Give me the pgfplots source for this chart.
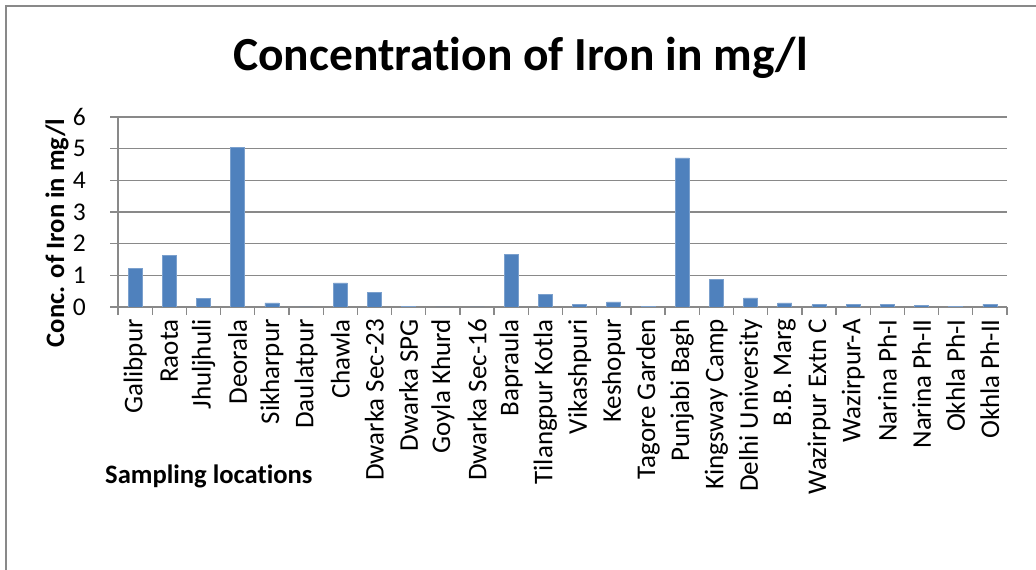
\documentclass[border=0pt]{standalone}
\usepackage{pgfplots}
\pgfplotsset{compat=1.18}
\usepackage{fontspec}
\setmainfont{Carlito}[Ligatures={NoCommon}]
\definecolor{barblue}{HTML}{4F81BD}
\definecolor{baredge}{HTML}{7BA0CD}
\definecolor{gridgray}{HTML}{898989}

\pgfplotstableread{
idx value
0  1.21
1  1.64
2  0.26
3  5.05
4  0.13
5  0
6  0.76
7  0.47
8  0.03
9  0
10 0
11 1.67
12 0.40
13 0.07
14 0.16
15 0.03
16 4.71
17 0.88
18 0.29
19 0.13
20 0.07
21 0.07
22 0.07
23 0.06
24 0.01
25 0.09
}\irondata

\begin{document}
\begin{tikzpicture}[x=1pt,y=1pt]
\useasboundingbox (0,0) rectangle (1036,570);
% chart area frame
\begin{scope}
\clip (0,0) rectangle (1036,570);
\draw[gridgray, line width=1.3pt] (6,-20) rectangle (1060,564);
\end{scope}
% title and axis titles
\node[anchor=base, font=\fontsize{47.5}{52}\selectfont\bfseries, inner sep=0pt] at (520.5,499) {Concentration of Iron in mg/l};
\node[rotate=90, anchor=center, font=\fontsize{26.6}{30}\selectfont\bfseries, inner sep=0pt] at (57,337) {Conc. of Iron in mg/l};
\node[anchor=base west, font=\fontsize{26.6}{30}\selectfont\bfseries, inner sep=0pt] at (105,86) {Sampling locations};

\begin{axis}[
  at={(118pt,263pt)}, anchor=south west,
  scale only axis, width=889pt, height=190pt,
  ybar, bar width=14pt,
  xmin=-0.5, xmax=25.5, ymin=0, ymax=6,
  enlargelimits=false,
  axis x line*=bottom, axis y line*=left,
  axis line style={gridgray, line width=1.3pt},
  tick align=outside,
  major tick length=8pt,
  tick style={gridgray, line width=1.3pt},
  ymajorgrids,
  grid style={gridgray, line width=1.3pt},
  ytick={0,1,2,3,4,5,6},
  /pgf/number format/assume math mode=true,
  yticklabel style={font=\fontsize{25.5}{28}\selectfont, inner sep=0pt, xshift=-24pt},
  xtick={-0.5,0.5,...,25.5},
  xticklabels={},
  extra x ticks={0,1,...,25},
  extra x tick labels={Galibpur,Raota,Jhuljhuli,Deorala,Sikharpur,Daulatpur,Chawla,Dwarka Sec-23,Dwarka SPG,Goyla Khurd,Dwarka Sec-16,Bapraula,Tilangpur Kotla,Vikashpuri,Keshopur,Tagore Garden,Punjabi Bagh,Kingsway Camp,Delhi University,B.B. Marg,Wazirpur Extn C,Wazirpur-A,Narina Ph-I,Narina Ph-II,Okhla Ph-I,Okhla Ph-II},
  extra x tick style={major tick length=0pt, grid=none,
    tick label style={rotate=90, anchor=east, inner sep=0pt, xshift=-12pt, font=\fontsize{27}{30}\selectfont}},
]
\addplot[fill=barblue, draw=baredge, line width=0.6pt] table[x=idx, y=value] {\irondata};
\end{axis}
\end{tikzpicture}
\end{document}
